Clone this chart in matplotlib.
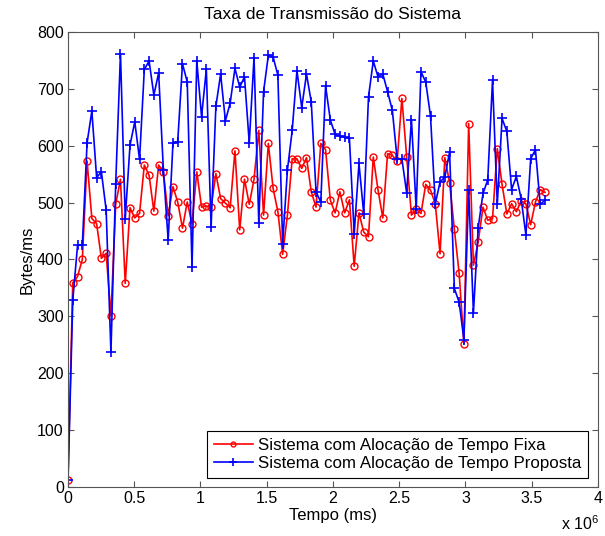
import numpy as np
import matplotlib
matplotlib.use("Agg")
import matplotlib.pyplot as plt
from matplotlib.ticker import FuncFormatter, MultipleLocator

plt.rcParams["font.family"] = ["Liberation Sans", "DejaVu Sans"]
plt.rcParams["mathtext.fontset"] = "custom"
plt.rcParams["mathtext.rm"] = "Liberation Sans"

# tempo (ms): amostras a cada 36000 ms
tempo = np.arange(0, 3600001, 36000)

taxa_fixa = [
    12, 359, 370, 400, 573, 472, 463, 402, 411, 301,
    497, 541, 358, 491, 473, 481, 566, 548, 485, 566,
    554, 477, 528, 501, 455, 501, 463, 554, 492, 494,
    492, 551, 507, 499, 491, 591, 452, 541, 497, 541,
    627, 478, 604, 525, 484, 409, 478, 577, 577, 560,
    579, 519, 492, 604, 593, 504, 482, 519, 482, 505,
    388, 482, 448, 440, 580, 522, 473, 586, 583, 573,
    683, 581, 478, 488, 481, 532, 522, 498, 410, 579,
    535, 453, 376, 252, 639, 390, 431, 492, 469, 472,
    595, 532, 480, 498, 484, 503, 498, 461, 501, 523,
    518,
]

taxa_proposta = [
    12, 328, 425, 425, 605, 661, 544, 554, 487, 237,
    533, 762, 472, 601, 642, 576, 734, 749, 689, 728,
    557, 434, 604, 607, 744, 712, 386, 749, 651, 734,
    457, 669, 726, 644, 675, 736, 703, 721, 605, 755,
    464, 695, 759, 756, 724, 428, 557, 627, 732, 667,
    726, 677, 519, 501, 705, 645, 620, 617, 615, 613,
    445, 569, 480, 686, 749, 721, 726, 695, 662, 577,
    577, 517, 646, 489, 730, 712, 652, 498, 536, 545,
    589, 349, 325, 259, 522, 306, 456, 516, 540, 715,
    497, 648, 625, 523, 546, 507, 443, 577, 593, 497,
    504,
]

fig = plt.figure(figsize=(6.05, 5.36), dpi=100)
ax = fig.add_axes([0.1124, 0.0914, 0.876, 0.849])

ax.plot(tempo, taxa_fixa, color="red", lw=1.2, marker="o", ms=5,
        mfc="none", mew=1.0, label="Sistema com Alocação de Tempo Fixa")
ax.plot(tempo, taxa_proposta, color="blue", lw=1.2, marker="+", ms=7.5,
        mew=1.2, label="Sistema com Alocação de Tempo Proposta")

ax.set_xlim(0, 4e6)
ax.set_ylim(0, 800)
ax.xaxis.set_major_locator(MultipleLocator(0.5e6))
ax.yaxis.set_major_locator(MultipleLocator(100))
ax.xaxis.set_major_formatter(FuncFormatter(lambda v, p: f"{v / 1e6:g}"))
ax.tick_params(direction="in", top=True, right=True, length=4,
               labelsize=11.5, pad=3, color="#555555")
for s in ax.spines.values():
    s.set_color("#555555")

ax.set_title("Taxa de Transmissão do Sistema", fontsize=12.5, pad=9)
ax.set_xlabel("Tempo (ms)", fontsize=12, labelpad=1)
ax.set_ylabel("Bytes/ms", fontsize=12, labelpad=2)

fig.text(0.928, 0.012, r"x 10$^{6}$", fontsize=11.5)

leg = ax.legend(loc="lower right", bbox_to_anchor=(0.981, 0.02),
                borderaxespad=0, fontsize=12.2, fancybox=False,
                edgecolor="black", framealpha=1, handlelength=2.3,
                labelspacing=0.2, borderpad=0.4, handletextpad=0.3,
                markerscale=0.7)
leg.get_frame().set_linewidth(0.8)

fig.savefig("out.png", dpi=100)
plt.close()
